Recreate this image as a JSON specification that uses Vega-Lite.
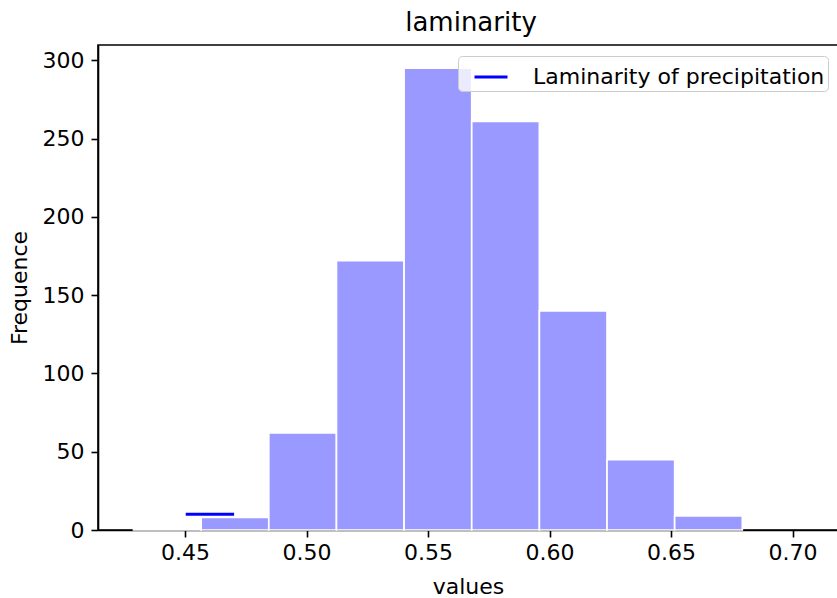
{
  "$schema": "https://vega.github.io/schema/vega-lite/v6.json",
  "width": 740,
  "height": 485,
  "autosize": {"type": "none"},
  "padding": {"left": 98, "top": 45, "right": 0, "bottom": 68},
  "background": "white",
  "title": {"text": "laminarity", "fontSize": 26, "font": "DejaVu Sans", "fontWeight": "normal", "color": "#000", "anchor": "middle", "offset": 9, "dx": 3},
  "config": {
    "view": {"stroke": "#000", "strokeWidth": 1.6},
    "font": "DejaVu Sans",
    "axis": {"labelFont": "DejaVu Sans", "titleFont": "DejaVu Sans", "labelFontSize": 22, "titleFontSize": 22, "titleFontWeight": "normal", "labelColor": "#000", "titleColor": "#000", "domainColor": "#000", "domainWidth": 1.6, "tickColor": "#000", "tickWidth": 1.6, "tickSize": 7, "labelPadding": 5, "grid": false},
    "legend": {"orient": "none", "legendX": 360, "legendY": 11, "fillColor": "rgba(255,255,255,0.8)", "strokeColor": "#cccccc", "cornerRadius": 4, "padding": 3, "symbolOffset": 12, "labelFontSize": 22, "labelFont": "DejaVu Sans", "labelColor": "#000", "labelLimit": 500, "symbolType": "stroke", "symbolStrokeWidth": 3, "symbolSize": 1089, "labelOffset": 24}
  },
  "layer": [
    {
      "data": {"values": [
        {"bin_start": 0.42881, "bin_end": 0.45665, "count": 1},
        {"bin_start": 0.45665, "bin_end": 0.48448, "count": 8},
        {"bin_start": 0.48448, "bin_end": 0.51232, "count": 62},
        {"bin_start": 0.51232, "bin_end": 0.54015, "count": 172},
        {"bin_start": 0.54015, "bin_end": 0.56799, "count": 295},
        {"bin_start": 0.56799, "bin_end": 0.59582, "count": 261},
        {"bin_start": 0.59582, "bin_end": 0.62366, "count": 140},
        {"bin_start": 0.62366, "bin_end": 0.65149, "count": 45},
        {"bin_start": 0.65149, "bin_end": 0.67933, "count": 9}
      ]},
      "mark": {"type": "rect", "fill": "#9999ff", "stroke": "white", "strokeWidth": 1.7},
      "encoding": {
        "x": {"field": "bin_start", "type": "quantitative", "scale": {"domain": [0.4142, 0.7187], "nice": false, "zero": false}, "axis": {"values": [0.45, 0.5, 0.55, 0.6, 0.65, 0.7], "format": ".2f", "title": "values", "titlePadding": 13}},
        "x2": {"field": "bin_end"},
        "y": {"field": "count", "type": "quantitative", "scale": {"domain": [0, 309.75], "nice": false}, "axis": {"values": [0, 50, 100, 150, 200, 250, 300], "title": "Frequence", "labelPadding": 7, "titlePadding": 11}},
        "y2": {"datum": 0}
      }
    },
    {
      "data": {"values": [
        {"x": 0.4503, "y": 10, "series": "Laminarity of precipitation"},
        {"x": 0.4702, "y": 10, "series": "Laminarity of precipitation"}
      ]},
      "mark": {"type": "line", "strokeWidth": 3},
      "encoding": {
        "x": {"field": "x", "type": "quantitative"},
        "y": {"field": "y", "type": "quantitative"},
        "stroke": {"field": "series", "type": "nominal", "scale": {"range": ["#0000ff"]}, "legend": {"title": null}}
      }
    }
  ]
}
